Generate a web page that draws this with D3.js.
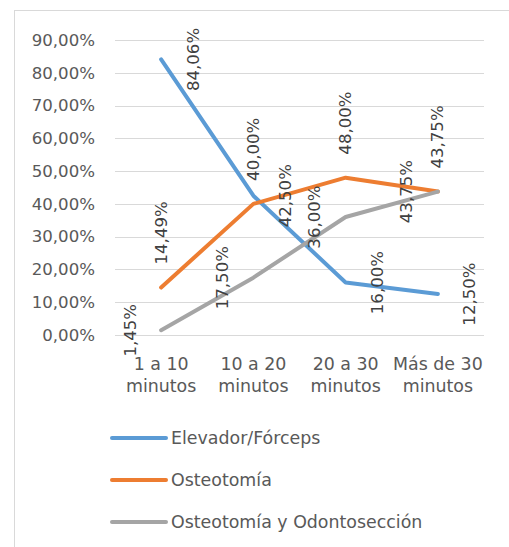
<!DOCTYPE html>
<html>
<head>
<meta charset="utf-8">
<script src="https://cdn.jsdelivr.net/npm/d3@7"></script>
<style>
  html, body { margin: 0; padding: 0; background: #fff; }
  svg { display: block; font-family: "DejaVu Sans", sans-serif; }
</style>
</head>
<body>
<div id="chart"></div>
<script>
// Tiempo de cirugía por técnica
const categories = ["1 a 10|minutos", "10 a 20|minutos", "20 a 30|minutos", "Más de 30|minutos"];
const seriesNames = ["Elevador/Fórceps", "Osteotomía", "Osteotomía y Odontosección"];
const elevadorValues = [84.06, 42.50, 16.00, 12.50];
const osteotomiaValues = [14.49, 40.00, 48.00, 43.75];
const odontoseccionValues = [1.45, 17.50, 36.00, 43.75];
const yTicks = [0, 10, 20, 30, 40, 50, 60, 70, 80, 90];

const colors = ["#5B9BD5", "#ED7D31", "#A5A5A5"];
// where each series places its value labels relative to the point
const labelSide = ["right", "above", "left"];

const series = [elevadorValues, osteotomiaValues, odontoseccionValues].map((values, i) => ({
  name: seriesNames[i], values, color: colors[i], side: labelSide[i]
}));

const W = 509, H = 547;
const FS_NUM = 16.6;   // percentages
const FS_TXT = 17.4;   // category and legend text
const fmt = v => d3.format(".2f")(v).replace(".", ",") + "%";

const svg = d3.select("#chart").append("svg").attr("width", W).attr("height", H);

// chart frame
svg.append("rect")
  .attr("x", 14.5).attr("y", 10.5).attr("width", W).attr("height", H)
  .attr("fill", "none").attr("stroke", "#D9D9D9").attr("stroke-width", 1);

const x = d3.scaleBand().domain(categories).range([115, 484]);
const y = d3.scaleLinear().domain([0, 90]).range([335, 40]);
const cx = c => x(c) + x.bandwidth() / 2;

// gridlines
svg.append("g").selectAll("line").data(yTicks).join("line")
  .attr("x1", 115).attr("x2", 484)
  .attr("y1", d => Math.round(y(d)) + 0.5).attr("y2", d => Math.round(y(d)) + 0.5)
  .attr("stroke", "#D9D9D9").attr("stroke-width", 1);

// y axis labels
const yAxis = d3.axisLeft(y).tickValues(yTicks).tickSize(0).tickPadding(0).tickFormat(fmt);
const gy = svg.append("g").attr("transform", "translate(95,0)").call(yAxis);
gy.select(".domain").remove();
gy.selectAll("text").attr("fill", "#595959").attr("font-size", FS_NUM)
  .attr("font-family", "'DejaVu Sans', sans-serif");

// x axis labels (two lines)
const gx = svg.append("g").selectAll("text").data(categories).join("text")
  .attr("x", d => cx(d)).attr("y", 370)
  .attr("text-anchor", "middle").attr("fill", "#595959").attr("font-size", FS_TXT);
gx.each(function(d) {
  const parts = d.split("|");
  const t = d3.select(this);
  parts.forEach((p, i) => t.append("tspan").attr("x", cx(d)).attr("dy", i === 0 ? 0 : 22).text(p));
});

// lines
const line = d3.line().x((d, i) => cx(categories[i])).y(d => y(d));
svg.append("g").selectAll("path").data(series).join("path")
  .attr("d", s => line(s.values))
  .attr("fill", "none").attr("stroke", s => s.color)
  .attr("stroke-width", 4).attr("stroke-linecap", "round").attr("stroke-linejoin", "round");

// value labels, rotated
const labels = svg.append("g");
series.forEach(s => {
  s.values.forEach((v, i) => {
    const px = cx(categories[i]), py = y(v);
    let tx = px, ty = py, anchor = "middle";
    if (s.side === "right") { tx = px + 32; }
    else if (s.side === "left") { tx = px - 31; }
    else { ty = py - 23; anchor = "start"; }
    labels.append("text")
      .attr("transform", `translate(${tx},${ty}) rotate(-90)`)
      .attr("text-anchor", anchor).attr("dominant-baseline", "central")
      .attr("fill", "#404040").attr("font-size", FS_NUM)
      .text(fmt(v));
  });
});

// legend
const legend = svg.append("g").selectAll("g").data(series).join("g")
  .attr("transform", (d, i) => `translate(0,${438 + i * 42})`);
legend.append("line").attr("x1", 112).attr("x2", 166).attr("y1", 0).attr("y2", 0)
  .attr("stroke", d => d.color).attr("stroke-width", 4).attr("stroke-linecap", "round");
legend.append("text").attr("x", 171).attr("y", 0).attr("dominant-baseline", "central")
  .attr("fill", "#595959").attr("font-size", FS_TXT).text(d => d.name);
</script>
</body>
</html>
